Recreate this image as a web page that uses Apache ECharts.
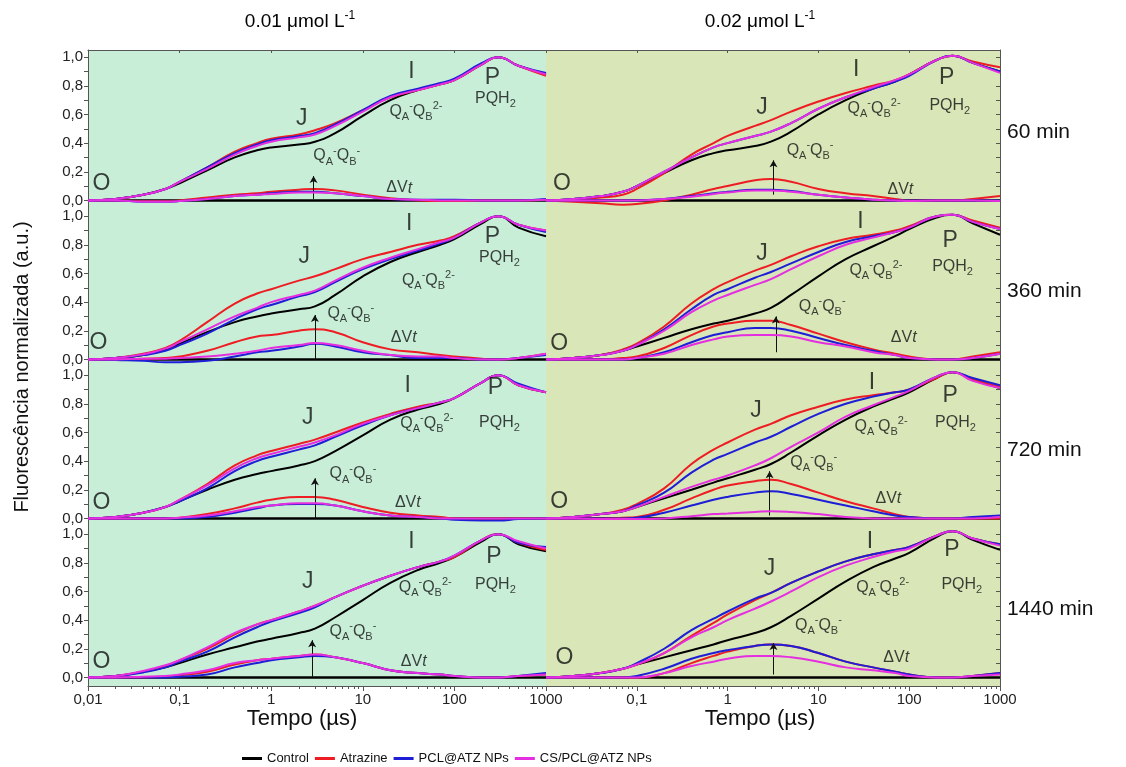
<!DOCTYPE html>
<html>
<head>
<meta charset="utf-8">
<script src="https://cdn.jsdelivr.net/npm/echarts@6/dist/echarts.min.js"></script>
<style>
html, body { margin: 0; padding: 0; background: #fff; }
#charts { width: 1126px; height: 767px; }
</style>
</head>
<body>
<div id="charts"></div>
<script>
// tempo (µs), eixo log
var tempo = [0.01, 0.02, 0.04, 0.07, 0.1, 0.2, 0.4, 0.7, 1, 2, 3, 5, 10, 20, 40, 70, 100, 200, 300, 500, 1000];
var nomes = ['Control', 'Atrazine', 'PCL@ATZ NPs', 'CS/PCL@ATZ NPs'];
var tempos = ['60 min', '360 min', '720 min', '1440 min'];
var concentracoes = ['0.01', '0.02'];
var yTicks = [0, 0.2, 0.4, 0.6, 0.8, 1.0];

// OJIP normalizado: [Control, Atrazine, PCL@ATZ, CS/PCL@ATZ]
var ojip_60_a = [
  [0, 0.01, 0.04, 0.08, 0.12, 0.21, 0.30, 0.35, 0.37, 0.39, 0.41, 0.47, 0.59, 0.70, 0.77, 0.81, 0.84, 0.95, 1.0, 0.94, 0.88],
  [0, 0.01, 0.04, 0.08, 0.13, 0.23, 0.34, 0.40, 0.43, 0.46, 0.49, 0.54, 0.63, 0.72, 0.77, 0.81, 0.84, 0.95, 1.0, 0.94, 0.87],
  [0, 0.01, 0.04, 0.08, 0.13, 0.23, 0.33, 0.39, 0.42, 0.45, 0.47, 0.53, 0.63, 0.73, 0.78, 0.82, 0.85, 0.96, 1.0, 0.94, 0.89],
  [0, 0.01, 0.04, 0.08, 0.13, 0.22, 0.32, 0.38, 0.41, 0.44, 0.46, 0.52, 0.62, 0.72, 0.77, 0.81, 0.84, 0.95, 1.0, 0.94, 0.88]
];
// ΔVt: [Control, Atrazine, PCL@ATZ, CS/PCL@ATZ]
var dvt_60_a = [
  [0, 0, 0, 0, 0, 0, 0, 0, 0, 0, 0, 0, 0, 0, 0, 0, 0, 0, 0, 0, 0],
  [0, 0, -0.005, -0.005, 0, 0.02, 0.04, 0.05, 0.06, 0.075, 0.08, 0.07, 0.04, 0.015, 0, -0.005, -0.005, 0, 0, 0, 0.005],
  [0, 0, -0.01, -0.01, -0.005, 0.01, 0.03, 0.04, 0.05, 0.06, 0.06, 0.05, 0.03, 0.01, 0.005, 0.005, 0.005, 0, 0, 0, 0.01],
  [0, 0, -0.01, -0.01, -0.005, 0.01, 0.03, 0.04, 0.045, 0.055, 0.055, 0.05, 0.03, 0.01, 0.005, 0, 0, 0, 0, 0, 0.005]
];
var ojip_60_b = [
  [0, 0.01, 0.03, 0.06, 0.10, 0.19, 0.28, 0.33, 0.35, 0.38, 0.41, 0.48, 0.60, 0.70, 0.78, 0.83, 0.88, 0.98, 1.01, 0.96, 0.90],
  [0, 0.005, 0.02, 0.04, 0.08, 0.19, 0.32, 0.40, 0.45, 0.52, 0.56, 0.62, 0.69, 0.75, 0.80, 0.84, 0.88, 0.98, 1.01, 0.97, 0.93],
  [0, 0.01, 0.03, 0.06, 0.10, 0.20, 0.30, 0.37, 0.40, 0.45, 0.48, 0.54, 0.64, 0.72, 0.78, 0.83, 0.87, 0.98, 1.01, 0.96, 0.90],
  [0, 0.01, 0.03, 0.06, 0.10, 0.20, 0.30, 0.37, 0.40, 0.45, 0.48, 0.54, 0.64, 0.72, 0.79, 0.84, 0.88, 0.98, 1.01, 0.96, 0.89]
];
var dvt_60_b = [
  [0, 0, 0, 0, 0, 0, 0, 0, 0, 0, 0, 0, 0, 0, 0, 0, 0, 0, 0, 0, 0],
  [0, -0.01, -0.02, -0.03, -0.025, 0, 0.04, 0.08, 0.10, 0.14, 0.15, 0.13, 0.08, 0.05, 0.03, 0.01, 0, 0, 0, 0.01, 0.03],
  [0, 0, 0, 0, 0, 0.01, 0.03, 0.05, 0.06, 0.075, 0.075, 0.065, 0.04, 0.02, 0.005, 0, 0, 0, 0, 0, 0],
  [0, 0, 0, 0, 0, 0.01, 0.025, 0.045, 0.055, 0.07, 0.07, 0.06, 0.04, 0.02, 0.005, 0, -0.005, 0, 0, 0, -0.005]
];
var ojip_360_a = [
  [0, 0.01, 0.03, 0.07, 0.11, 0.19, 0.26, 0.30, 0.32, 0.35, 0.37, 0.45, 0.58, 0.68, 0.75, 0.80, 0.84, 0.95, 1.0, 0.92, 0.86],
  [0, 0.01, 0.04, 0.08, 0.13, 0.26, 0.39, 0.46, 0.49, 0.55, 0.58, 0.63, 0.70, 0.75, 0.80, 0.83, 0.86, 0.96, 1.0, 0.94, 0.90],
  [0, 0.01, 0.03, 0.06, 0.10, 0.18, 0.28, 0.35, 0.38, 0.44, 0.47, 0.54, 0.63, 0.70, 0.76, 0.81, 0.85, 0.96, 1.0, 0.94, 0.89],
  [0, 0.01, 0.035, 0.075, 0.12, 0.21, 0.30, 0.36, 0.40, 0.45, 0.48, 0.55, 0.64, 0.71, 0.77, 0.82, 0.85, 0.96, 1.0, 0.94, 0.90]
];
var dvt_360_a = [
  [0, 0, 0, 0, 0, 0, 0, 0, 0, 0, 0, 0, 0, 0, 0, 0, 0, 0, 0, 0, 0],
  [0, 0, 0.005, 0.01, 0.02, 0.06, 0.12, 0.16, 0.17, 0.20, 0.21, 0.19, 0.12, 0.07, 0.05, 0.03, 0.02, 0.005, 0, 0.01, 0.04],
  [0, -0.005, -0.01, -0.02, -0.02, -0.01, 0.02, 0.05, 0.06, 0.09, 0.11, 0.09, 0.05, 0.03, 0.01, 0.01, 0.01, 0, 0, 0.01, 0.03],
  [0, 0, 0.005, 0.005, 0.01, 0.02, 0.04, 0.06, 0.08, 0.10, 0.115, 0.10, 0.06, 0.03, 0.02, 0.02, 0.01, 0, 0, 0.01, 0.04]
];
var ojip_360_b = [
  [0, 0.01, 0.03, 0.06, 0.09, 0.15, 0.21, 0.25, 0.27, 0.32, 0.36, 0.45, 0.58, 0.70, 0.79, 0.86, 0.91, 0.99, 1.01, 0.95, 0.87],
  [0, 0.01, 0.03, 0.07, 0.11, 0.23, 0.39, 0.49, 0.54, 0.62, 0.66, 0.72, 0.79, 0.84, 0.87, 0.90, 0.93, 1.0, 1.01, 0.97, 0.92],
  [0, 0.01, 0.03, 0.06, 0.10, 0.21, 0.35, 0.45, 0.49, 0.57, 0.61, 0.67, 0.75, 0.82, 0.86, 0.89, 0.92, 1.0, 1.01, 0.96, 0.91],
  [0, 0.01, 0.03, 0.06, 0.10, 0.20, 0.33, 0.41, 0.45, 0.52, 0.56, 0.63, 0.72, 0.80, 0.85, 0.89, 0.92, 1.0, 1.01, 0.96, 0.91]
];
var dvt_360_b = [
  [0, 0, 0, 0, 0, 0, 0, 0, 0, 0, 0, 0, 0, 0, 0, 0, 0, 0, 0, 0, 0],
  [0, 0, 0, 0.01, 0.02, 0.08, 0.17, 0.23, 0.25, 0.27, 0.27, 0.24, 0.18, 0.12, 0.07, 0.04, 0.02, 0, 0, 0.02, 0.05],
  [0, 0, 0, 0, 0.01, 0.05, 0.12, 0.17, 0.19, 0.22, 0.22, 0.20, 0.15, 0.10, 0.06, 0.03, 0.01, 0, 0, 0.01, 0.04],
  [0, 0, 0, 0, 0.01, 0.04, 0.10, 0.14, 0.16, 0.17, 0.17, 0.16, 0.12, 0.09, 0.05, 0.03, 0.01, 0, 0, 0.01, 0.04]
];
var ojip_720_a = [
  [0, 0.01, 0.04, 0.08, 0.12, 0.20, 0.27, 0.31, 0.33, 0.37, 0.40, 0.47, 0.58, 0.69, 0.76, 0.80, 0.84, 0.95, 1.0, 0.93, 0.88],
  [0, 0.01, 0.04, 0.08, 0.13, 0.24, 0.37, 0.44, 0.47, 0.52, 0.55, 0.60, 0.67, 0.73, 0.78, 0.81, 0.84, 0.95, 1.0, 0.93, 0.88],
  [0, 0.01, 0.04, 0.08, 0.12, 0.21, 0.33, 0.40, 0.43, 0.48, 0.51, 0.57, 0.65, 0.72, 0.77, 0.81, 0.84, 0.95, 1.0, 0.94, 0.88],
  [0, 0.01, 0.04, 0.08, 0.13, 0.23, 0.35, 0.42, 0.45, 0.50, 0.53, 0.58, 0.66, 0.72, 0.77, 0.81, 0.84, 0.95, 1.0, 0.93, 0.88]
];
var dvt_720_a = [
  [0, 0, 0, 0, 0, 0, 0, 0, 0, 0, 0, 0, 0, 0, 0, 0, 0, 0, 0, 0, 0],
  [0, 0, 0, 0, 0.005, 0.03, 0.07, 0.11, 0.13, 0.15, 0.15, 0.13, 0.08, 0.04, 0.02, 0.01, 0, 0, 0, 0, 0],
  [0, 0, 0, 0, 0, 0.01, 0.04, 0.07, 0.09, 0.10, 0.10, 0.09, 0.05, 0.02, 0.01, 0, -0.01, -0.015, -0.015, -0.005, 0],
  [0, 0, 0, 0, 0.005, 0.02, 0.05, 0.08, 0.09, 0.105, 0.105, 0.09, 0.05, 0.02, 0.01, 0, 0, 0, 0, 0, 0]
];
var ojip_720_b = [
  [0, 0.01, 0.03, 0.05, 0.08, 0.14, 0.20, 0.25, 0.28, 0.34, 0.38, 0.46, 0.58, 0.69, 0.78, 0.84, 0.88, 0.98, 1.02, 0.97, 0.91],
  [0, 0.01, 0.03, 0.06, 0.10, 0.21, 0.38, 0.48, 0.53, 0.62, 0.66, 0.72, 0.78, 0.83, 0.86, 0.88, 0.90, 0.98, 1.02, 0.97, 0.92],
  [0, 0.01, 0.03, 0.05, 0.09, 0.18, 0.32, 0.41, 0.45, 0.53, 0.57, 0.64, 0.73, 0.80, 0.85, 0.88, 0.90, 0.99, 1.02, 0.98, 0.93],
  [0, 0.01, 0.03, 0.05, 0.08, 0.15, 0.22, 0.27, 0.30, 0.37, 0.42, 0.50, 0.60, 0.71, 0.79, 0.85, 0.89, 0.99, 1.02, 0.96, 0.91]
];
var dvt_720_b = [
  [0, 0, 0, 0, 0, 0, 0, 0, 0, 0, 0, 0, 0, 0, 0, 0, 0, 0, 0, 0, 0],
  [0, 0, 0, 0.005, 0.01, 0.06, 0.14, 0.20, 0.23, 0.26, 0.27, 0.24, 0.18, 0.12, 0.07, 0.03, 0.01, 0, 0, 0, 0],
  [0, 0, 0, 0, 0.005, 0.04, 0.09, 0.13, 0.15, 0.18, 0.19, 0.17, 0.13, 0.09, 0.05, 0.02, 0.01, 0, 0, 0.01, 0.02],
  [0, 0, -0.005, -0.005, -0.005, 0, 0.015, 0.03, 0.035, 0.045, 0.05, 0.045, 0.03, 0.01, 0, 0, 0, 0, 0, 0, 0.01]
];
var ojip_1440_a = [
  [0, 0.01, 0.04, 0.07, 0.10, 0.16, 0.21, 0.25, 0.27, 0.31, 0.34, 0.42, 0.54, 0.66, 0.75, 0.80, 0.84, 0.95, 1.0, 0.93, 0.88],
  [0, 0.01, 0.04, 0.08, 0.12, 0.20, 0.30, 0.37, 0.40, 0.46, 0.50, 0.56, 0.64, 0.71, 0.77, 0.81, 0.84, 0.96, 1.0, 0.94, 0.89],
  [0, 0.01, 0.035, 0.07, 0.11, 0.18, 0.28, 0.35, 0.39, 0.45, 0.49, 0.56, 0.64, 0.71, 0.77, 0.81, 0.85, 0.96, 1.0, 0.94, 0.91],
  [0, 0.01, 0.045, 0.085, 0.12, 0.21, 0.31, 0.37, 0.40, 0.46, 0.50, 0.56, 0.64, 0.71, 0.77, 0.81, 0.85, 0.96, 1.0, 0.95, 0.90]
];
var dvt_1440_a = [
  [0, 0, 0, 0, 0, 0, 0, 0, 0, 0, 0, 0, 0, 0, 0, 0, 0, 0, 0, 0, 0],
  [0, 0, 0, 0.005, 0.015, 0.04, 0.09, 0.12, 0.13, 0.15, 0.16, 0.14, 0.10, 0.05, 0.03, 0.02, 0.01, 0, 0, 0.01, 0.02],
  [0, 0, 0, 0, 0.005, 0.02, 0.07, 0.10, 0.12, 0.14, 0.15, 0.14, 0.10, 0.05, 0.03, 0.02, 0.01, 0, 0, 0.01, 0.03],
  [0, 0, 0.005, 0.01, 0.02, 0.05, 0.10, 0.12, 0.13, 0.15, 0.16, 0.14, 0.10, 0.05, 0.03, 0.02, 0.01, 0, 0, 0.01, 0.02]
];
var ojip_1440_b = [
  [0, 0.01, 0.03, 0.06, 0.09, 0.14, 0.19, 0.23, 0.26, 0.31, 0.35, 0.43, 0.55, 0.67, 0.77, 0.83, 0.87, 0.98, 1.02, 0.96, 0.89],
  [0, 0.01, 0.03, 0.06, 0.09, 0.17, 0.29, 0.38, 0.44, 0.54, 0.59, 0.66, 0.74, 0.81, 0.86, 0.89, 0.91, 0.99, 1.02, 0.97, 0.93],
  [0, 0.01, 0.03, 0.06, 0.10, 0.20, 0.33, 0.41, 0.46, 0.55, 0.59, 0.66, 0.74, 0.81, 0.86, 0.89, 0.91, 0.99, 1.02, 0.97, 0.93],
  [0, 0.01, 0.03, 0.06, 0.09, 0.17, 0.28, 0.35, 0.40, 0.48, 0.53, 0.60, 0.70, 0.78, 0.84, 0.88, 0.90, 0.99, 1.02, 0.97, 0.92]
];
var dvt_1440_b = [
  [0, 0, 0, 0, 0, 0, 0, 0, 0, 0, 0, 0, 0, 0, 0, 0, 0, 0, 0, 0, 0],
  [0, 0, 0, 0, 0, 0.03, 0.10, 0.15, 0.18, 0.22, 0.23, 0.22, 0.17, 0.11, 0.07, 0.04, 0.02, 0, 0, 0.01, 0.03],
  [0, 0, 0, 0, 0.01, 0.06, 0.13, 0.17, 0.19, 0.22, 0.23, 0.22, 0.17, 0.11, 0.07, 0.04, 0.02, 0, 0, 0.01, 0.03],
  [0, 0, 0, 0, 0, 0.03, 0.08, 0.11, 0.13, 0.15, 0.15, 0.14, 0.11, 0.07, 0.05, 0.03, 0.01, 0, 0, 0.01, 0.02]
];

var paineis = [
  [ojip_60_a, dvt_60_a], [ojip_60_b, dvt_60_b],
  [ojip_360_a, dvt_360_a], [ojip_360_b, dvt_360_b],
  [ojip_720_a, dvt_720_a], [ojip_720_b, dvt_720_b],
  [ojip_1440_a, dvt_1440_a], [ojip_1440_b, dvt_1440_b]
];

// posicao dos rotulos O, J, I, P... em coordenadas (tempo, valor)
var rotulos = [
  {O: [0.014, 0.12], J: [2.15, 0.57], I: [34, 0.90], P: [260, 0.86], PQH: [280, 0.71], QB2: [38, 0.62], QB1: [5.2, 0.31], dV: [25, 0.086], seta: [2.9, 0.01, 0.17]},
  {O: [0.015, 0.12], J: [2.4, 0.65], I: [26, 0.91], P: [258, 0.86], PQH: [280, 0.66], QB2: [41, 0.64], QB1: [8.1, 0.35], dV: [80, 0.074], seta: [3.2, 0.04, 0.28]},
  {O: [0.013, 0.12], J: [2.3, 0.72], I: [32, 0.95], P: [260, 0.86], PQH: [310, 0.71], QB2: [52, 0.55], QB1: [7.4, 0.32], dV: [28, 0.155], seta: [3.0, 0, 0.31]},
  {O: [0.014, 0.11], J: [2.4, 0.74], I: [29, 0.96], P: [282, 0.83], PQH: [300, 0.65], QB2: [43, 0.62], QB1: [11, 0.37], dV: [87, 0.15], seta: [3.4, 0.05, 0.30]},
  {O: [0.014, 0.11], J: [2.5, 0.70], I: [31, 0.93], P: [280, 0.91], PQH: [310, 0.67], QB2: [50, 0.66], QB1: [7.8, 0.31], dV: [31, 0.11], seta: [3.0, 0, 0.28]},
  {O: [0.014, 0.12], J: [2.06, 0.75], I: [39, 0.95], P: [283, 0.86], PQH: [323, 0.67], QB2: [49, 0.64], QB1: [8.9, 0.39], dV: [59, 0.14], seta: [2.9, 0.02, 0.33]},
  {O: [0.014, 0.11], J: [2.5, 0.67], I: [34, 0.95], P: [270, 0.84], PQH: [280, 0.65], QB2: [48, 0.63], QB1: [7.8, 0.32], dV: [36, 0.11], seta: [2.8, 0, 0.26]},
  {O: [0.016, 0.14], J: [2.9, 0.76], I: [37, 0.95], P: [295, 0.89], PQH: [380, 0.65], QB2: [51, 0.63], QB1: [10, 0.36], dV: [72, 0.14], seta: [3.2, 0.02, 0.24]}
];

var fonte = "'Liberation Sans', Arial, sans-serif";
var estreita = "'Liberation Sans Narrow', 'Liberation Sans', Arial, sans-serif";
var cores = ['#000000', '#ee1d23', '#1e1ed6', '#e52ee0'];
var fundos = ['#c8eed8', '#d8e6b8'];
var colunas = [[88, 458], [546, 454]];
var topos = [50, 209, 368, 527];
var altura = 159;

// ticks menores do eixo log (posicao em log10)
var menores = [];
for (var d = -2; d < 3; d++) {
  for (var k = 2; k <= 9; k++) menores.push(Math.log10(k) + d);
}

function virgula(v) {
  return String(Number(v.toPrecision(6))).replace('.', ',');
}

var richAnot = {
  g: {fontSize: 23, fontFamily: fonte, color: '#111'},
  q: {fontSize: 16, lineHeight: 22, fontFamily: fonte, color: '#111'},
  sb: {fontSize: 11, lineHeight: 11, verticalAlign: 'bottom', fontFamily: fonte, color: '#111'},
  sp: {fontSize: 11, lineHeight: 11, verticalAlign: 'top', fontFamily: fonte, color: '#111'},
  it: {fontSize: 16, lineHeight: 22, fontStyle: 'italic', fontFamily: fonte, color: '#111'}
};

var grids = [], xAxes = [], yAxes = [], series = [];
for (var r = 0; r < 4; r++) {
  for (var c = 0; c < 2; c++) {
    var i = r * 2 + c;
    grids.push({
      left: colunas[c][0], width: colunas[c][1], top: topos[r], height: altura,
      show: true, backgroundColor: fundos[c], borderWidth: 0
    });
    xAxes.push({
      gridIndex: i, type: 'log', logBase: 10, min: 0.01, max: 1000, position: 'bottom',
      axisLine: {show: r == 3, onZero: false, lineStyle: {color: '#555', width: 1}},
      axisTick: {show: r == 3, length: 5, lineStyle: {color: '#555'}},
      axisLabel: {show: r == 3, showMinLabel: c == 0, color: '#222', fontSize: 15, fontFamily: fonte, margin: 6, formatter: virgula},
      splitLine: {show: false}
    });
    yAxes.push({
      gridIndex: i, type: 'value', min: -0.06, max: 1.05, position: c == 0 ? 'left' : 'right',
      axisLine: {show: true, onZero: false, lineStyle: {color: '#555', width: 1}},
      axisTick: {show: true, inside: c == 1, length: 4, customValues: [0, 0.1, 0.2, 0.3, 0.4, 0.5, 0.6, 0.7, 0.8, 0.9, 1.0], lineStyle: {color: '#555'}},
      axisLabel: {show: c == 0, customValues: yTicks, color: '#222', fontSize: 15, fontFamily: fonte, margin: 5, formatter: function (v) { return v.toFixed(1).replace('.', ','); }},
      splitLine: {show: false}
    });

    var ojip = paineis[i][0], dvt = paineis[i][1];
    for (var s = 0; s < 4; s++) {
      series.push({
        name: nomes[s], type: 'line', xAxisIndex: i, yAxisIndex: i, smooth: true, symbol: 'none',
        data: tempo.map(function (t, j) { return [t, ojip[s][j]]; }),
        lineStyle: {color: cores[s], width: 2}, itemStyle: {color: cores[s]}, z: 2 + s, silent: true
      });
    }
    for (var s = 0; s < 4; s++) {
      series.push({
        name: nomes[s], type: 'line', xAxisIndex: i, yAxisIndex: i, smooth: true, symbol: 'none',
        data: tempo.map(function (t, j) { return [t, dvt[s][j]]; }),
        lineStyle: {color: cores[s], width: s == 0 ? 2.5 : 2}, itemStyle: {color: cores[s]}, z: 2 + s, silent: true
      });
    }
    var ro = rotulos[i];
    series.push({
      type: 'scatter', xAxisIndex: i, yAxisIndex: i, symbolSize: 1, silent: true, z: 10,
      itemStyle: {color: 'rgba(0,0,0,0)'},
      label: {show: true, position: 'inside', rich: richAnot},
      data: [
        {value: ro.O, label: {formatter: '{g|O}'}},
        {value: ro.J, label: {formatter: '{g|J}'}},
        {value: ro.I, label: {formatter: '{g|I}'}},
        {value: ro.P, label: {formatter: '{g|P}'}},
        {value: ro.PQH, label: {formatter: '{q|PQH}{sb|2}'}},
        {value: ro.QB2, label: {formatter: '{q|Q}{sb|A}{sp|-}{q|Q}{sb|B}{sp|2-}'}},
        {value: ro.QB1, label: {formatter: '{q|Q}{sb|A}{sp|-}{q|Q}{sb|B}{sp|-}'}},
        {value: ro.dV, label: {formatter: '{q|ΔV}{it|t}'}}
      ],
      markLine: {
        silent: true, symbol: ['none', 'arrow'], symbolSize: [6, 7],
        label: {show: false}, lineStyle: {color: '#111', width: 1, type: 'solid'},
        data: [[{coord: [ro.seta[0], ro.seta[1]]}, {coord: [ro.seta[0], ro.seta[2]]}]]
      }
    });
  }
}

// eixo de ticks menores (log10) nos paineis de baixo
[6, 7].forEach(function (g) {
  xAxes.push({
    gridIndex: g, type: 'value', min: -2, max: 3, position: 'bottom',
    axisLine: {show: false, onZero: false}, axisLabel: {show: false}, splitLine: {show: false},
    axisTick: {show: true, length: 3, customValues: menores, lineStyle: {color: '#555'}}
  });
});
// borda superior da primeira linha
[0, 1].forEach(function (g) {
  xAxes.push({
    gridIndex: g, type: 'log', logBase: 10, min: 0.01, max: 1000, position: 'top',
    axisLine: {show: true, onZero: false, lineStyle: {color: '#555', width: 1}}, axisLabel: {show: false}, splitLine: {show: false},
    axisTick: {show: true, inside: true, length: 3, lineStyle: {color: '#555'}}
  });
});

var textos = [];
var richTitulo = {
  t: {fontSize: 19, lineHeight: 24, fontFamily: fonte, color: '#111'},
  s: {fontSize: 12, lineHeight: 12, verticalAlign: 'top', fontFamily: fonte, color: '#111'}
};
textos.push({type: 'text', x: 300, y: 22, style: {text: '{t|' + concentracoes[0] + ' μmol L}{s|-1}', rich: richTitulo, align: 'center', verticalAlign: 'middle'}});
textos.push({type: 'text', x: 760, y: 22, style: {text: '{t|' + concentracoes[1] + ' μmol L}{s|-1}', rich: richTitulo, align: 'center', verticalAlign: 'middle'}});
for (var r = 0; r < 4; r++) {
  textos.push({type: 'text', x: 1007, y: topos[r] + 82, style: {text: tempos[r], font: '21px ' + fonte, fill: '#111', align: 'left', verticalAlign: 'middle'}});
}
textos.push({type: 'text', x: 302, y: 719, style: {text: 'Tempo (µs)', font: '22px ' + estreita, fill: '#111', align: 'center', verticalAlign: 'middle'}});
textos.push({type: 'text', x: 760, y: 719, style: {text: 'Tempo (µs)', font: '22px ' + estreita, fill: '#111', align: 'center', verticalAlign: 'middle'}});
textos.push({type: 'text', x: 22, y: 367, rotation: Math.PI / 2, style: {text: 'Fluorescência normalizada (a.u.)', font: '20px ' + fonte, fill: '#111', align: 'center', verticalAlign: 'middle'}});

var chart = echarts.init(document.getElementById('charts'), null, {renderer: 'canvas'});
chart.setOption({
  animation: false,
  backgroundColor: '#ffffff',
  grid: grids,
  xAxis: xAxes,
  yAxis: yAxes,
  legend: {
    data: nomes, left: 237, top: 747, itemWidth: 20, itemHeight: 3, itemGap: 6, icon: 'rect',
    textStyle: {fontSize: 13, fontFamily: estreita, color: '#111'}
  },
  graphic: textos,
  series: series
});
</script>
</body>
</html>
